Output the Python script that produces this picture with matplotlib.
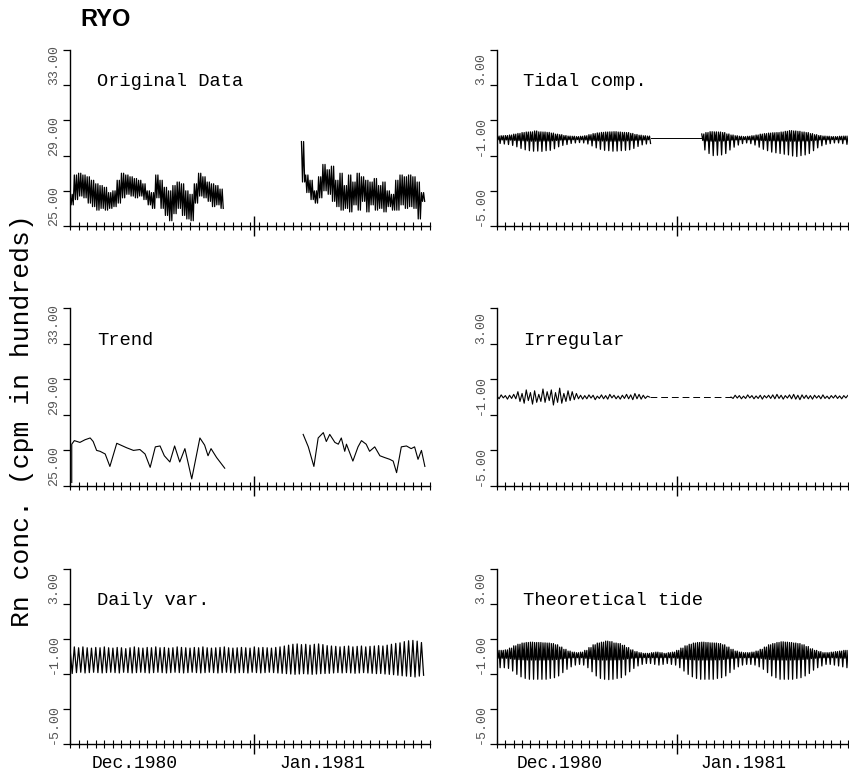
import numpy as np
import matplotlib.pyplot as plt
from matplotlib.transforms import blended_transform_factory

# ---- data (x = days from start of record) ----
# Original data: one high / one low per day, two pieces around the gap
orig1_start = 0
orig1_hi = [26.8, 27.9, 28.0, 27.9, 27.8, 27.6, 27.4, 27.3, 27.2, 26.9,
            27.0, 27.6, 28.0, 27.9, 27.8, 27.7, 27.6, 27.4, 27.0, 26.9,
            27.9, 27.6, 27.2, 27.0, 27.3, 27.5, 27.4, 27.0, 26.8, 27.4,
            28.0, 27.8, 27.5, 27.4, 27.3, 27.1]
orig1_lo = [26.2, 26.5, 26.7, 26.6, 26.3, 26.1, 25.9, 26.0, 25.9, 26.0,
            26.1, 26.3, 26.6, 26.8, 26.7, 26.6, 26.7, 26.5, 26.2, 26.0,
            26.6, 26.0, 25.6, 25.3, 25.7, 26.0, 25.6, 25.4, 25.3, 26.3,
            26.7, 26.6, 26.4, 26.1, 26.2, 26.0]
orig2_start = 54
orig2_hi = [29.8, 27.9, 27.6, 27.0, 27.8, 28.5, 28.2, 28.4, 27.6, 28.0,
            27.3, 27.9, 27.5, 28.0, 27.8, 27.6, 27.5, 27.7, 27.3, 27.5,
            27.0, 26.8, 27.6, 27.9, 27.8, 27.9, 27.8, 27.5, 26.9]
orig2_lo = [27.5, 26.9, 26.5, 26.3, 26.6, 27.0, 26.8, 26.4, 26.1, 25.9,
            26.0, 25.8, 26.2, 25.9, 26.4, 25.8, 26.2, 25.9, 26.0, 25.8,
            26.1, 25.9, 25.9, 26.2, 26.0, 26.1, 26.0, 25.4, 26.4]

# Trend
trend1_day = [0.4, 0.4, 1.0, 2.3, 3.5, 4.7, 5.4, 6.2, 7.0, 8.2, 9.3, 10.9,
              13.2, 14.8, 16.3, 17.5, 18.7, 19.9, 21.0, 22.0, 23.3, 24.4,
              25.6, 26.8, 28.4, 30.3, 31.4, 32.2, 32.9, 34.2, 36.1]
trend1_val = [25.2, 27.35, 27.55, 27.45, 27.6, 27.7, 27.5, 27.0, 26.95, 26.8,
              26.1, 27.4, 27.15, 27.0, 27.05, 26.8, 26.05, 27.2, 27.25, 26.7,
              26.35, 27.25, 26.35, 27.1, 25.4, 27.7, 27.3, 26.7, 27.1, 26.6, 26.0]
trend2_day = [54.4, 55.6, 56.9, 57.9, 59.1, 59.8, 60.6, 61.8, 62.6, 63.3,
              64.1, 64.5, 66.0, 67.2, 68.0, 69.1, 69.9, 71.1, 72.3, 73.4,
              74.6, 75.4, 76.2, 77.3, 78.5, 79.6, 80.4, 81.2, 82.0, 82.8]
trend2_val = [27.9, 27.2, 26.1, 27.7, 28.0, 27.5, 27.9, 27.45, 27.35, 27.7,
              26.95, 27.35, 26.4, 27.2, 27.55, 27.35, 26.95, 27.2, 26.7, 26.6,
              26.5, 26.4, 25.75, 27.2, 27.25, 27.1, 27.2, 26.5, 27.0, 26.1]

# Daily variation: one high / one low per day
daily_hi = [0.45, 0.55, 0.50, 0.55, 0.50, 0.48, 0.52, 0.50, 0.55, 0.50,
            0.48, 0.52, 0.50, 0.45, 0.50, 0.55, 0.50, 0.48, 0.52, 0.50,
            0.55, 0.50, 0.52, 0.48, 0.50, 0.55, 0.52, 0.50, 0.48, 0.52,
            0.50, 0.55, 0.50, 0.48, 0.50, 0.52, 0.55, 0.50, 0.48, 0.50,
            0.52, 0.50, 0.48, 0.55, 0.50, 0.52, 0.50, 0.48, 0.52, 0.55,
            0.60, 0.65, 0.70, 0.72, 0.68, 0.70, 0.65, 0.70, 0.72, 0.68,
            0.62, 0.60, 0.58, 0.55, 0.58, 0.60, 0.55, 0.58, 0.60, 0.55,
            0.58, 0.60, 0.62, 0.60, 0.65, 0.70, 0.75, 0.78, 0.85, 0.90,
            0.92, 0.88, 0.80]
daily_lo = [-0.97, -0.92, -0.90, -0.94, -0.92, -0.90, -0.92, -0.94, -0.92, -0.90,
            -0.92, -0.94, -0.90, -0.92, -0.94, -0.92, -0.90, -0.92, -0.94, -0.92,
            -0.90, -0.92, -0.94, -0.92, -0.90, -0.92, -0.94, -0.92, -0.90, -0.92,
            -0.94, -0.92, -0.90, -0.92, -0.94, -0.92, -0.90, -0.92, -0.94, -0.92,
            -0.92, -0.94, -0.90, -0.92, -0.94, -0.92, -0.90, -0.92, -0.94, -0.96,
            -0.98, -1.00, -1.02, -1.00, -0.98, -1.00, -1.02, -1.00, -0.98, -0.97,
            -0.96, -0.94, -0.92, -0.94, -0.92, -0.94, -0.96, -0.94, -0.92, -0.94,
            -0.96, -0.98, -0.97, -1.00, -1.02, -1.04, -1.07, -1.10, -1.12, -1.14,
            -1.17, -1.12, -1.07]

# Tidal component: per day high, shallow low, deep low
tidal1_start = 0
tidal1_hi = [0.11, 0.13, 0.14, 0.17, 0.22, 0.26, 0.31, 0.34, 0.35, 0.40,
             0.35, 0.34, 0.32, 0.28, 0.22, 0.19, 0.14, 0.11, 0.10, 0.08,
             0.10, 0.13, 0.19, 0.25, 0.29, 0.32, 0.34, 0.35, 0.36, 0.34,
             0.32, 0.31, 0.26, 0.20, 0.16, 0.13, 0.11]
tidal1_sh = [-0.10, -0.11, -0.11, -0.12, -0.14, -0.15, -0.16, -0.17, -0.18, -0.18,
             -0.18, -0.17, -0.17, -0.16, -0.14, -0.12, -0.11, -0.10, -0.10, -0.09,
             -0.10, -0.11, -0.13, -0.15, -0.16, -0.17, -0.17, -0.18, -0.18, -0.17,
             -0.17, -0.16, -0.15, -0.13, -0.12, -0.11, -0.10]
tidal1_dp = [-0.31, -0.34, -0.37, -0.42, -0.50, -0.59, -0.67, -0.72, -0.75, -0.74,
             -0.76, -0.72, -0.70, -0.61, -0.50, -0.42, -0.37, -0.31, -0.28, -0.26,
             -0.28, -0.34, -0.45, -0.56, -0.64, -0.70, -0.72, -0.75, -0.74, -0.72,
             -0.70, -0.67, -0.59, -0.48, -0.39, -0.34, -0.31]
tidal2_start = 49
tidal2_hi = [0.23, 0.31, 0.36, 0.35, 0.34, 0.31, 0.23, 0.17, 0.13, 0.10,
             0.08, 0.10, 0.13, 0.17, 0.22, 0.25, 0.28, 0.30, 0.31, 0.34,
             0.38, 0.42, 0.40, 0.38, 0.34, 0.31, 0.25, 0.19, 0.14, 0.11,
             0.10, 0.08, 0.08, 0.10, 0.11, 0.11]
tidal2_sh = [-0.14, -0.17, -0.18, -0.18, -0.17, -0.17, -0.14, -0.12, -0.11, -0.10,
             -0.09, -0.10, -0.11, -0.12, -0.14, -0.15, -0.16, -0.16, -0.17, -0.17,
             -0.18, -0.18, -0.18, -0.18, -0.17, -0.17, -0.15, -0.13, -0.11, -0.10,
             -0.10, -0.09, -0.09, -0.10, -0.10, -0.10]
tidal2_dp = [-0.68, -0.88, -1.00, -0.98, -0.96, -0.88, -0.68, -0.52, -0.40, -0.32,
             -0.28, -0.32, -0.40, -0.52, -0.64, -0.72, -0.80, -0.84, -0.88, -0.92,
             -0.96, -1.02, -1.05, -1.00, -0.96, -0.88, -0.72, -0.56, -0.44, -0.36,
             -0.32, -0.28, -0.28, -0.32, -0.36, -0.36]
tidal_gap_level = 0.0

# Irregular: two values per day
irr1_start = 0
irr1 = [0.05, -0.10, 0.12, -0.05, 0.08, -0.12, 0.10, -0.08, 0.15, -0.10,
        0.30, -0.25, 0.20, -0.35, 0.40, -0.20, 0.25, -0.40, 0.35, -0.30,
        0.15, -0.25, 0.45, -0.30, 0.30, -0.20, 0.40, -0.45, 0.25, -0.30,
        0.50, -0.35, 0.20, -0.25, 0.35, -0.20, 0.30, -0.15, 0.20, -0.10,
        0.10, -0.12, 0.08, -0.10, 0.12, -0.06, 0.10, -0.15, 0.05, -0.08,
        0.12, -0.10, 0.08, -0.12, 0.15, -0.05, 0.10, -0.10, 0.06, -0.12,
        0.10, -0.08, 0.15, -0.10, 0.12, -0.15, 0.20, -0.10, 0.15, -0.12,
        0.10, -0.08, 0.05, 0.00]
irr2_start = 56
irr2 = [0.00, -0.08, 0.10, -0.06, 0.08, -0.10, 0.05, -0.08, 0.12, -0.05,
        0.08, -0.10, 0.06, -0.08, 0.10, -0.12, 0.08, -0.05, 0.10, -0.08,
        0.12, -0.10, 0.15, -0.08, 0.10, -0.12, 0.08, -0.06, 0.12, -0.10,
        0.15, -0.12, 0.10, -0.15, 0.12, -0.08, 0.10, -0.10, 0.08, -0.12,
        0.10, -0.06, 0.08, -0.10, 0.12, -0.08, 0.05, -0.10, 0.08, -0.06,
        0.10, -0.08, 0.06, -0.10, 0.08, -0.05, 0.10, -0.06]

# Theoretical tide: per day high, shallow low, deep low
tide_hi = [0.35, 0.35, 0.38, 0.48, 0.61, 0.70, 0.77, 0.80, 0.82, 0.80,
           0.80, 0.78, 0.77, 0.74, 0.67, 0.54, 0.41, 0.31, 0.25, 0.22,
           0.25, 0.35, 0.51, 0.67, 0.77, 0.82, 0.88, 0.85, 0.77, 0.74,
           0.64, 0.51, 0.38, 0.28, 0.22, 0.18, 0.18, 0.22, 0.25, 0.22,
           0.18, 0.22, 0.25, 0.35, 0.48, 0.61, 0.70, 0.77, 0.80, 0.82,
           0.80, 0.78, 0.77, 0.74, 0.67, 0.54, 0.41, 0.31, 0.25, 0.22,
           0.22, 0.25, 0.31, 0.41, 0.54, 0.67, 0.74, 0.80, 0.84, 0.82,
           0.80, 0.77, 0.74, 0.67, 0.57, 0.44, 0.35, 0.28, 0.22, 0.22,
           0.25, 0.28, 0.31, 0.35, 0.35]
tide_sh = [-0.10, -0.10, -0.10, -0.13, -0.16, -0.18, -0.19, -0.20, -0.20, -0.20,
           -0.20, -0.20, -0.19, -0.19, -0.17, -0.14, -0.11, -0.09, -0.07, -0.07,
           -0.07, -0.10, -0.13, -0.17, -0.19, -0.20, -0.20, -0.20, -0.19, -0.19,
           -0.16, -0.13, -0.10, -0.08, -0.07, -0.06, -0.06, -0.07, -0.07, -0.07,
           -0.06, -0.07, -0.07, -0.10, -0.13, -0.16, -0.18, -0.19, -0.20, -0.20,
           -0.20, -0.20, -0.19, -0.19, -0.17, -0.14, -0.11, -0.09, -0.07, -0.07,
           -0.07, -0.07, -0.09, -0.11, -0.14, -0.17, -0.19, -0.20, -0.20, -0.20,
           -0.20, -0.19, -0.19, -0.17, -0.15, -0.12, -0.10, -0.08, -0.07, -0.07,
           -0.07, -0.08, -0.09, -0.10, -0.10]
tide_dp = [-0.64, -0.64, -0.68, -0.83, -1.02, -1.16, -1.25, -1.30, -1.30, -1.30,
           -1.30, -1.30, -1.25, -1.21, -1.11, -0.92, -0.73, -0.59, -0.49, -0.45,
           -0.49, -0.64, -0.87, -1.11, -1.25, -1.30, -1.32, -1.30, -1.25, -1.21,
           -1.06, -0.87, -0.68, -0.54, -0.45, -0.40, -0.40, -0.45, -0.49, -0.45,
           -0.40, -0.45, -0.49, -0.64, -0.83, -1.02, -1.16, -1.25, -1.30, -1.30,
           -1.30, -1.30, -1.25, -1.21, -1.11, -0.92, -0.73, -0.59, -0.49, -0.45,
           -0.45, -0.49, -0.59, -0.73, -0.92, -1.11, -1.21, -1.30, -1.30, -1.30,
           -1.30, -1.25, -1.21, -1.11, -0.97, -0.78, -0.64, -0.54, -0.45, -0.45,
           -0.49, -0.54, -0.59, -0.64, -0.64]

n_days = 84
month_labels = ["Dec.1980", "Jan.1981"]
month_pos = [15, 59]
month_break = 43

MONO = ["Liberation Mono", "DejaVu Sans Mono"]
LW = 0.9


def zigzag(start, *levels):
    # interleave the per-day levels into one trace, evenly spaced in each day
    arr = np.column_stack(levels)
    k = arr.shape[1]
    x = start + np.arange(arr.size) / k
    return x, arr.ravel()


def style(ax, lo, title, xlabels=False):
    ax.set_xlim(0, n_days)
    ax.set_ylim(lo, lo + 10)
    for s in ("top", "right"):
        ax.spines[s].set_visible(False)
    for s in ("left", "bottom"):
        ax.spines[s].set_linewidth(1.0)
    yt = np.arange(lo, lo + 10.1, 2)
    ax.set_yticks(yt)
    ax.set_yticklabels([f"{v:.2f}" if i % 2 == 0 else "" for i, v in enumerate(yt)],
                       rotation=90, va="bottom", fontsize=9.5, family=MONO, color="#555555")
    ax.tick_params(axis="y", direction="out", length=5, width=0.9, pad=2)
    ax.set_xticks(np.arange(0, n_days + 1, 2), minor=True)
    ax.set_xticks([month_break])
    ax.set_xticklabels([])
    ax.tick_params(axis="x", which="minor", direction="inout", length=6, width=0.8)
    ax.tick_params(axis="x", which="major", direction="inout", length=14, width=1.0)
    ax.text(0.075, 0.82, title, transform=ax.transAxes, family=MONO, fontsize=13.5,
            va="center", ha="left")
    if xlabels:
        tr = blended_transform_factory(ax.transData, ax.transAxes)
        for lab, p in zip(month_labels, month_pos):
            ax.text(p, -0.11, lab, transform=tr, family=MONO, fontsize=13,
                    ha="center", va="center")


fig = plt.figure(figsize=(8.49, 7.78), dpi=100)
L = (0.0825, 0.424)
R = (0.5854, 0.4134)
rows = [(0.7095, 0.2262), (0.3753, 0.2288), (0.0437, 0.2249)]

ax_orig = fig.add_axes([L[0], rows[0][0], L[1], rows[0][1]])
ax_tidal = fig.add_axes([R[0], rows[0][0], R[1], rows[0][1]])
ax_trend = fig.add_axes([L[0], rows[1][0], L[1], rows[1][1]])
ax_irr = fig.add_axes([R[0], rows[1][0], R[1], rows[1][1]])
ax_daily = fig.add_axes([L[0], rows[2][0], L[1], rows[2][1]])
ax_tide = fig.add_axes([R[0], rows[2][0], R[1], rows[2][1]])

# Original data
for st, hi, lo in ((orig1_start, orig1_hi, orig1_lo), (orig2_start, orig2_hi, orig2_lo)):
    x, y = zigzag(st, hi, lo, hi, lo)
    ax_orig.plot(x, y, color="black", lw=LW)
style(ax_orig, 25, "Original Data")

# Tidal comp.
x1, y1 = zigzag(tidal1_start, tidal1_hi, tidal1_sh, tidal1_hi, tidal1_dp)
x2, y2 = zigzag(tidal2_start, tidal2_hi, tidal2_sh, tidal2_hi, tidal2_dp)
ax_tidal.plot(x1, y1, color="black", lw=LW)
ax_tidal.plot(x2, y2, color="black", lw=LW)
ax_tidal.plot([x1[-1], x2[0]], [tidal_gap_level, tidal_gap_level], color="black", lw=0.7)
style(ax_tidal, -5, "Tidal comp.")

# Trend
ax_trend.plot(trend1_day, trend1_val, color="black", lw=0.8)
ax_trend.plot(trend2_day, trend2_val, color="black", lw=0.8)
style(ax_trend, 25, "Trend")

# Irregular
xi1 = irr1_start + np.arange(len(irr1)) / 2
xi2 = irr2_start + np.arange(len(irr2)) / 2
ax_irr.plot(xi1, irr1, color="black", lw=0.8)
ax_irr.plot(xi2, irr2, color="black", lw=0.8)
ax_irr.plot([xi1[-1], xi2[0]], [irr1[-1], irr2[0]], color="black", lw=0.7,
            linestyle=(0, (7, 4)))
style(ax_irr, -5, "Irregular")

# Daily var.
x, y = zigzag(0, daily_hi, daily_lo)
ax_daily.plot(x, y, color="black", lw=LW)
style(ax_daily, -5, "Daily var.", xlabels=True)

# Theoretical tide
x, y = zigzag(0, tide_hi, tide_sh, tide_hi, tide_dp)
ax_tide.plot(x, y, color="black", lw=LW)
style(ax_tide, -5, "Theoretical tide", xlabels=True)

fig.text(80 / 849, 1 - 20 / 778, "RYO", family=["Liberation Sans", "DejaVu Sans"],
         fontweight="bold", fontsize=17, va="center", ha="left")
fig.text(22 / 849, 1 - 421 / 778, "Rn conc. (cpm in hundreds)", family=MONO,
         fontsize=19, rotation=90, va="center", ha="center")

fig.savefig("out.png", dpi=100)
